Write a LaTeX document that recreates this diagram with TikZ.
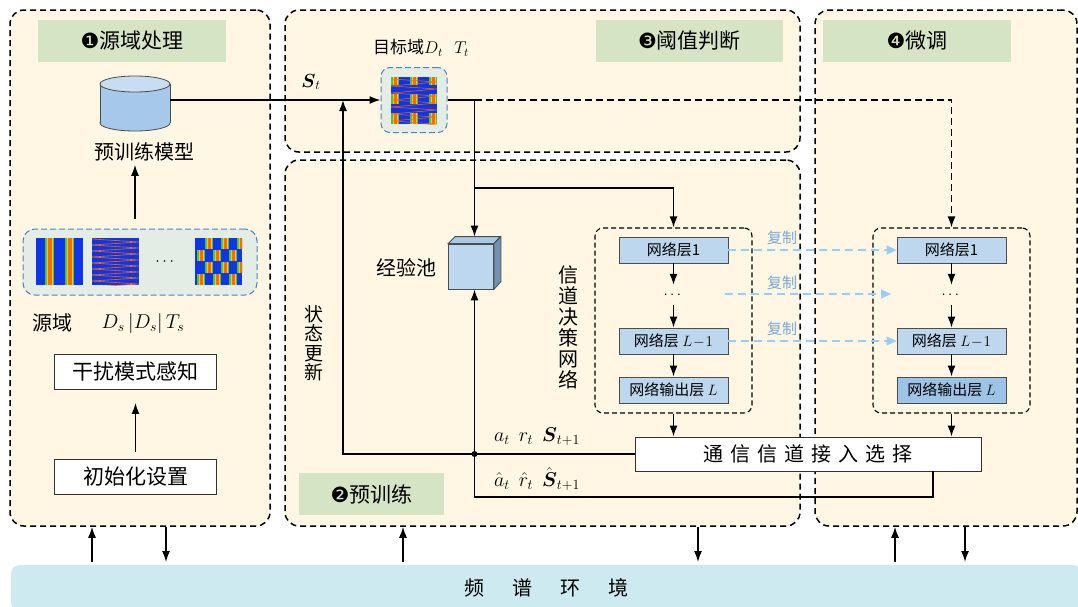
\RequirePackage{fix-cm}
\documentclass[tikz,border=0pt]{standalone}
\usepackage{amsmath}
\usepackage{fontspec}
\setmainfont{Noto Sans CJK SC}
\newfontfamily\dingfont{DejaVu Sans}
\usetikzlibrary{arrows.meta,positioning}

\definecolor{panelbg}{HTML}{FFF7E3}
\definecolor{titlegreen}{HTML}{D4E4C4}
\definecolor{envblue}{HTML}{CDEAF0}
\definecolor{imgboxbg}{HTML}{E4ECE6}
\definecolor{imgborder}{HTML}{4F81BD}
\definecolor{layerblue}{HTML}{BDD7EE}
\definecolor{layerdark}{HTML}{9DC3E6}
\definecolor{dbbody}{HTML}{A6C8EA}
\definecolor{dbtop}{HTML}{C8DDF2}
\definecolor{cubetop}{HTML}{A9C9E8}
\definecolor{cubeside}{HTML}{7391B2}
\definecolor{copyblue}{HTML}{9DCBF5}
\definecolor{copytext}{HTML}{7BA7D6}
\definecolor{imgblue}{HTML}{1035E6}
\definecolor{imgorange}{HTML}{FF6A00}
\definecolor{imgyellow}{HTML}{F5D000}
\definecolor{imggreen}{HTML}{3CC85A}

\newcommand{\fsz}[1]{\fontsize{#1}{#1}\selectfont}
\newcommand{\sgap}{\hspace{7pt}}

\tikzset{
  panel/.style={draw, dash pattern=on 6pt off 4pt, line width=1.5pt, rounded corners=14pt, fill=panelbg},
  titlebox/.style={fill=titlegreen, minimum height=42pt, font=\fsz{21}},
  plainbox/.style={draw=black!80, fill=white, line width=0.8pt, minimum width=162pt, minimum height=35pt, font=\fsz{21}},
  imgbox/.style={draw=imgborder, fill=imgboxbg, dash pattern=on 6pt off 3pt, line width=1pt, rounded corners=12pt},
  layer/.style={draw=black!70, fill=layerblue, line width=0.8pt, minimum width=109pt, minimum height=26pt, inner sep=0pt, font=\fsz{15}},
  dotsnode/.style={minimum height=20pt, inner sep=0pt, font=\fsz{15}},
  netbox/.style={draw, dash pattern=on 5pt off 3pt, line width=1.1pt, rounded corners=8pt, minimum width=157pt, minimum height=185pt},
  line/.style={line width=1.5pt},
  arr/.style={line, -{Latex[length=11pt,width=8pt]}},
  dashline/.style={dash pattern=on 7pt off 4pt},
  copyarr/.style={copyblue, line width=1.1pt, dash pattern=on 8pt off 5pt, -{Triangle[length=10pt,width=9pt]}},
  copytxt/.style={copytext, font=\fsz{15}},
}

% spectrogram thumbnails, (#1,#2) is the top left corner
\newcommand{\stripeimg}[2]{%
  \begin{scope}[shift={(#1,#2)}]
    \fill[imgblue] (0,0) rectangle (47,47);
    \foreach \s in {9,29}{
      \fill[imggreen] (\s,0) rectangle ++(9,47);
      \fill[imgyellow] (\s+1.5,0) rectangle ++(6,47);
      \fill[imgorange] (\s+2.5,0) rectangle ++(4,47);
    }
  \end{scope}}
\newcommand{\chirpimg}[2]{%
  \begin{scope}[shift={(#1,#2)}]
    \fill[imgblue] (0,0) rectangle (47,47);
    \begin{scope}
      \clip (0,0) rectangle (47,47);
      \foreach \k in {0,...,7}
        \draw[imgorange, line width=0.6pt] (0,\k*6+1) -- (47,\k*6+4) -- (0,\k*6+7);
    \end{scope}
  \end{scope}}
\newcommand{\checkimg}[2]{%
  \begin{scope}[shift={(#1,#2)}]
    \fill[imgblue] (0,0) rectangle (47,47);
    \begin{scope}
      \clip (0,0) rectangle (47,47);
      \foreach \r/\o in {0/10,1/2,2/10,3/2}
        \foreach \s in {0,16,32}{
          \fill[imggreen] (\o+\s,\r*12) rectangle ++(8,11);
          \fill[imgyellow] (\o+\s+1.5,\r*12) rectangle ++(5,11);
          \fill[imgorange] (\o+\s+2.5,\r*12) rectangle ++(3,11);
        }
    \end{scope}
  \end{scope}}
\newcommand{\mixedimg}[2]{%
  \begin{scope}[shift={(#1,#2)}]
    \fill[imgblue] (0,0) rectangle (46,47);
    \begin{scope}
      \clip (0,0) rectangle (46,47);
      \foreach \y/\h in {0/8,17/10,36/11}
        \foreach \s in {0,19,38}{
          \fill[imggreen] (\s,\y) rectangle ++(8,\h);
          \fill[imgyellow] (\s+1.5,\y) rectangle ++(5,\h);
          \fill[imgorange] (\s+2.5,\y) rectangle ++(3,\h);
        }
      \foreach \k in {0,...,6}
        \draw[imgorange, line width=0.5pt] (0,\k*7+2) -- (46,\k*7+5) -- (0,\k*7+9);
    \end{scope}
  \end{scope}}

\begin{document}
\begin{tikzpicture}[x=1pt,y=-1pt]
\useasboundingbox (0,0) rectangle (1078,606);

% the four stages
\node[panel, minimum width=260pt, minimum height=516pt] (p1) at (140,268) {};
\node[panel, minimum width=515pt, minimum height=142pt] (p3) at (542.5,81) {};
\node[panel, minimum width=515pt, minimum height=366pt] (p2) at (542.5,343) {};
\node[panel, minimum width=262pt, minimum height=516pt] (p4) at (946,268) {};

% spectrum environment
\node[fill=envblue, rounded corners=8pt, anchor=north west, minimum width=1070pt, minimum height=46pt, font=\fsz{20}] (env) at (11,565)
  {频\hspace{28pt}谱\hspace{28pt}环\hspace{28pt}境};

% stage titles
\node[titlebox, minimum width=188pt] (t1) at (132,41) {{\dingfont ❶}源域处理};
\node[titlebox, minimum width=145pt] (t2) at (371.5,494) {{\dingfont ❷}预训练};
\node[titlebox, minimum width=187pt] (t3) at (689.5,41) {{\dingfont ❸}阈值判断};
\node[titlebox, minimum width=188pt] (t4) at (917,41) {{\dingfont ❹}微调};

%% stage 1
% pretrained model store
\filldraw[fill=dbbody, draw=black!70, line width=0.8pt] (135,123) ellipse[x radius=35, y radius=8];
\fill[dbbody] (100,84) rectangle (170,123);
\draw[black!70, line width=0.8pt] (100,84) -- (100,123) (170,84) -- (170,123);
\filldraw[fill=dbtop, draw=black!70, line width=0.8pt] (135,84) ellipse[x radius=35, y radius=8];
\coordinate (db) at (170,100);
\node[font=\fsz{20}] (dblabel) at (144,152) {预训练模型};

% source domain samples
\node[imgbox, minimum width=234pt, minimum height=66pt] (imgs) at (140,262) {};
\stripeimg{36}{238}
\chirpimg{92}{238}
\node[font=\fsz{16}] (sdots) at (166,262) {$\cdots$};
\checkimg{195}{238}
\coordinate (srcup) at (135,219);

\node[font=\fsz{20}] (src) at (52,323) {源域};
\node[font=\fsz{20}] (srcset) at (143,323) {$D_s\,|D_s|\,T_s$};

\node[plainbox] (intf) at (135.5,372) {干扰模式感知};
\node[plainbox] (init) at (135.5,476.5) {初始化设置};

%% stage 3
\node[font=\fsz{17}] (tgtlabel) at (421,48) {目标域$D_t\ \ \ T_t$};
\node[imgbox, minimum width=66pt, minimum height=65pt, rounded corners=9pt] (tgt) at (414,100) {};
\mixedimg{391}{77}
\node[font=\fsz{19}] (st) at (311,82) {$\boldsymbol{S}_t$};

%% stage 2
\node[font=\fsz{19}, align=center] (updlabel) at (314,343) {状\\[0.5pt]态\\[0.5pt]更\\[0.5pt]新};
\node[font=\fsz{20}, align=center] (netlabel) at (568,327) {信\\[1pt]道\\[1pt]决\\[1pt]策\\[1pt]网\\[1pt]络};

% replay pool
\node[draw=black!70, fill=layerblue, line width=0.8pt, minimum width=45pt, minimum height=45pt] (pool) at (471,266.5) {};
\filldraw[fill=cubetop, draw=black!70, line width=0.8pt] (pool.north west) -- ++(7,-7) -- ++(45,0) -- (pool.north east) -- cycle;
\filldraw[fill=cubeside, draw=black!70, line width=0.8pt] (pool.north east) -- ++(7,-7) -- ++(0,45) -- (pool.south east) -- cycle;
\coordinate (pooltop) at ([shift={(3.5,-7)}]pool.north);
\node[font=\fsz{20}] (poollabel) at (406,268) {经验池};

% decision network
\node[netbox] (netA) at (673.5,320.5) {};
\node[layer] (lA1) at (673.5,250) {网络层1};
\node[dotsnode] (dA) at (673.5,295) {$\cdots$};
\node[layer] (lAL) at (673.5,341) {网络层 $L\!-\!1$};
\node[layer] (lAo) at (673.5,390) {网络输出层 $L$};
\draw[arr] (lA1) -- (dA);
\draw[arr] (dA) -- (lAL);
\draw[arr] (lAL) -- (lAo);

%% stage 4
\node[netbox] (netB) at (951.5,320.5) {};
\node[layer] (lB1) at (951.5,250) {网络层1};
\node[dotsnode] (dB) at (951.5,295) {$\cdots$};
\node[layer] (lBL) at (951.5,341) {网络层 $L\!-\!1$};
\node[layer, fill=layerdark] (lBo) at (951.5,390) {网络输出层 $L$};
\draw[arr] (lB1) -- (dB);
\draw[arr] (dB) -- (lBL);
\draw[arr] (lBL) -- (lBo);

% channel access
\node[plainbox, minimum width=346pt, minimum height=34pt, font=\fsz{20}] (sel) at (808,454)
  {通\sgap 信\sgap 信\sgap 道\sgap 接\sgap 入\sgap 选\sgap 择};

\node[font=\fsz{20}, inner sep=1pt] (obs) at (537,437) {$a_t\ \ r_t\ \ \boldsymbol{S}_{t+1}$};
\node[font=\fsz{20}, inner sep=1pt] (obshat) at (537,479) {$\hat{a}_t\ \ \hat{r}_t\ \ \hat{\boldsymbol{S}}_{t+1}$};

% connectors
\draw[arr] (srcup) -- (dblabel.south -| srcup);
\draw[arr, shorten <=7pt, shorten >=13pt] (init) -- (intf);
\draw[arr] (db) -- (tgt.west);

\coordinate (br) at (474.5,100);
\coordinate (brA) at (474.5,188);
\draw[line] (tgt.east) -- (br);
\draw[arr, dashline] (br) -- (br -| netB.north) -- (netB.north);
\draw[arr] (br) -- (pooltop);
\draw[arr] (brA) -- (brA -| netA.north) -- (netA.north);

\draw[arr] (netA.south) -- (netA.south |- sel.north);
\draw[arr] (netB.south) -- (netB.south |- sel.north);

\coordinate (upd) at (343,100);
\coordinate (jn) at (474.5,454);
\coordinate (lp) at (933,497);
\draw[line] (sel.west) -- (jn);
\draw[arr] (jn) -- (jn -| upd) -- (upd);
\draw[arr] (jn) -- (jn |- pool.south);
\draw[line] (jn) -- (jn |- lp) -- (lp) -- (lp |- sel.south);
\fill (jn) circle[radius=3pt];

% parameter copy
\coordinate (cpa) at (725,294);
\coordinate (cpb) at (891,294);
\draw[copyarr] (lA1.east) -- (lB1.west);
\draw[copyarr] (cpa) -- (cpb);
\draw[copyarr] (lAL.east) -- (lBL.west);
\node[copytxt] (cp1) at (782,238) {复制};
\node[copytxt] (cp2) at (782,283) {复制};
\node[copytxt] (cp3) at (782,329) {复制};

% links to the environment
\foreach \x/\p in {92/p1,403/p2,895/p4}
  \draw[arr, shorten <=3pt] (env.north -| \x,0) -- (\p.south -| \x,0);
\foreach \x/\p in {166/p1,698/p2,965/p4}
  \draw[arr, shorten >=3pt] (\p.south -| \x,0) -- (env.north -| \x,0);
\end{tikzpicture}
\end{document}
